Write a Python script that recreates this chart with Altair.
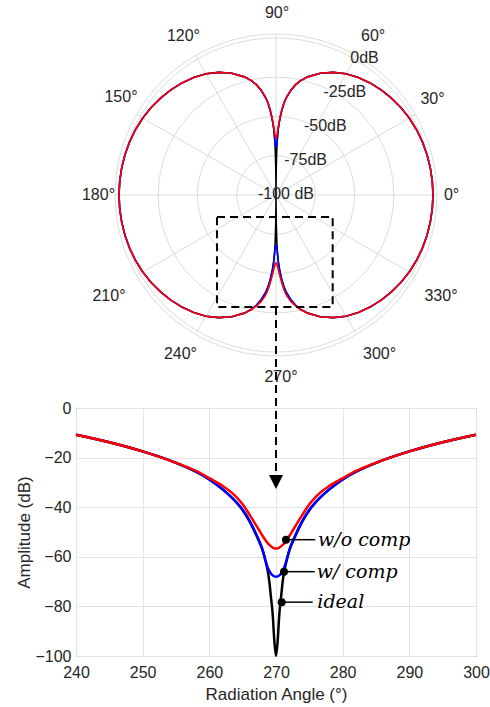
import altair as alt
import pandas as pd

# ---------------- values ----------------
# offsets (deg) from a pattern null (90 deg or 270 deg)
DELTA = [0, 0.25, 0.5, 0.75, 1, 1.25, 1.5, 2, 2.5, 3, 4, 5, 6, 8, 10, 12,
         15, 20, 25, 30, 35, 40, 45, 50, 55, 60, 65, 70, 75, 80, 85, 90]
# ideal pattern (dB) at those offsets
IDEAL_DB = [-100, -94, -83, -76.5, -70, -65.5, -62.5, -57.5, -54, -51, -45.5, -41.2,
            -37.9, -32.8, -28.8, -25.7, -22.1, -17.5, -13.8, -10.8, -8.6, -6.8, -5.3,
            -4.0, -2.9, -2.0, -1.3, -0.8, -0.45, -0.2, -0.05, 0]
# near-null values (first 16 offsets); further out all curves lie on the ideal one
WCOMP_270 = [-68, -67.9, -67.5, -66.8, -65.8, -64.3, -62.2, -57.3, -53.7, -50.7,
             -45.3, -41.0, -37.8, -32.8, -28.8, -25.7]
WOCOMP_270 = [-56.7, -56.6, -56.3, -55.8, -55.2, -54.5, -53.6, -51.6, -49.4, -47.2,
              -42.9, -38.8, -35.7, -31.4, -28.3, -25.4]
WCOMP_90 = [-69.5, -69.4, -69.0, -68.2, -67.0, -65.2, -62.5, -57.5, -54, -51,
            -45.5, -41.2, -37.9, -32.8, -28.8, -25.7]
WOCOMP_90 = [-63.5, -63.4, -63.0, -62.3, -61.4, -60.3, -59.0, -56.0, -53.0, -50.2,
             -45.0, -41.0, -37.8, -32.8, -28.8, -25.7]

SERIES = ["ideal", "w/ comp", "w/o comp"]
SERIES_COLORS = ["#000000", "#0000ff", "#ff0000"]

# polar grid
GRID_DB = [-75, -50, -25, 0]
OUTER_DB = 2.5
SPOKES = [0, 30, 60, 90, 120, 150, 180, 210, 240, 270, 300, 330]
ANGLE_LABELS = ["0°", "30°", "60°", "90°", "120°", "150°", "180°", "210°",
                "240°", "270°", "300°", "330°"]
RADIAL_DB = [-100, -75, -50, -25, 0]
RADIAL_LABELS = ["-100 dB", "-75dB", "-50dB", "-25dB", "0dB"]

# zoom window box drawn on the polar plot (polar units, r = dB + 100)
BOX_X = [-37.6, 36.1]
BOX_Y = [-71.3, -14.0]

# lower plot annotations
ANNOT_TEXT = ["w/o comp", "w/ comp", "ideal"]
ANNOT_ANGLE = [271.5, 271.2, 270.85]
ANNOT_DB = [-53.1, -66.0, -78.3]
ANNOT_LINE_END = [275.9, 275.8, 275.5]
ANNOT_TEXT_ANGLE = [276.3, 276.1, 276.2]
ARROW_ANGLE = 270
ARROW_TOP_DB = 4
ARROW_LINE_END_DB = -27
ARROW_TIP_DB = -29.8

X_TICKS = [240, 250, 260, 270, 280, 290, 300]
Y_TICKS = [-100, -80, -60, -40, -20, 0]

# ---------------- tables ----------------
def full(near):
    return near + IDEAL_DB[len(near):]

PROFILES = {
    "ideal": (IDEAL_DB, IDEAL_DB),
    "w/ comp": (full(WCOMP_90), full(WCOMP_270)),
    "w/o comp": (full(WOCOMP_90), full(WOCOMP_270)),
}

rows = []
for s in SERIES:
    top, bot = PROFILES[s]
    pts = []
    pts += [(90 - d, v) for d, v in zip(DELTA[::-1], top[::-1])]
    pts += [(90 + d, v) for d, v in zip(DELTA[1:], top[1:])]
    pts += [(270 - d, v) for d, v in zip(DELTA[::-1][1:], bot[::-1][1:])]
    pts += [(270 + d, v) for d, v in zip(DELTA[1:], bot[1:])]
    for i, (a, v) in enumerate(pts):
        rows.append({"series": s, "angle": a, "db": v, "i": i})
pattern = pd.DataFrame(rows)

grid_rows = []
for lev in GRID_DB + [OUTER_DB]:
    for a in range(0, 361, 3):
        grid_rows.append({"lev": lev, "angle": a, "db": lev})
grid_df = pd.DataFrame(grid_rows)

spoke_df = pd.DataFrame({"angle": SPOKES, "db": [OUTER_DB] * len(SPOKES), "label": ANGLE_LABELS})
radial_df = pd.DataFrame({"db": RADIAL_DB, "label": RADIAL_LABELS})
box_df = pd.DataFrame({"x1": [BOX_X[0]], "x2": [BOX_X[1]], "y1": [BOX_Y[0]], "y2": [BOX_Y[1]]})

# ---------------- polar chart ----------------
H1 = 391
XDOM = [-127.4, 127.4]
YDOM = [-(H1 - 192) / 1.57, 192 / 1.57]
FONT = "Liberation Sans"
TXT = "#262626"


def sx():
    return alt.Scale(domain=XDOM, nice=False, zero=False)


def sy():
    return alt.Scale(domain=YDOM, nice=False, zero=False)


px = alt.X("x:Q", scale=sx(), axis=None)
py = alt.Y("y:Q", scale=sy(), axis=None)

to_xy = dict(
    r="max(datum.db, -100) + 100",
    x="datum.r * cos(datum.angle * PI / 180)",
    y="datum.r * sin(datum.angle * PI / 180)",
)

grid_layer = alt.Chart(grid_df).transform_calculate(**to_xy).mark_line(
    color="#dcdcdc", strokeWidth=1
).encode(x=px, y=py, detail="lev:N", order="angle:Q")

spoke_layer = alt.Chart(spoke_df).transform_calculate(**to_xy).transform_calculate(
    x0="0", y0="0"
).mark_rule(color="#dcdcdc", strokeWidth=1).encode(
    x=alt.X("x0:Q", scale=sx(), axis=None),
    y=alt.Y("y0:Q", scale=sy(), axis=None),
    x2="x:Q", y2="y:Q",
)

# angle labels, anchored MATLAB-like (alignment depends on the side of the circle)
LABEL_R = 107
LABEL_STYLE = {  # angle: (align, baseline, dx, dy)
    0: ("left", "middle", 0, 0),
    30: ("left", "bottom", -1, -4),
    60: ("left", "bottom", 1, -6),
    90: ("center", "bottom", 1, -6),
    120: ("right", "bottom", 8, -6),
    150: ("right", "bottom", 7, -6),
    180: ("right", "middle", 7, 0),
    210: ("right", "top", -5, 9),
    240: ("right", "top", 5, 6),
    270: ("center", "top", 5, 6),
    300: ("left", "top", 3, 6),
    330: ("left", "top", 3, 9),
}
angle_label_layers = []
for ang, (align, baseline, dx, dy) in LABEL_STYLE.items():
    angle_label_layers.append(
        alt.Chart(spoke_df).transform_filter(alt.datum.angle == ang).transform_calculate(
            x=f"{LABEL_R} * cos(datum.angle * PI / 180)",
            y=f"{LABEL_R} * sin(datum.angle * PI / 180)",
        ).mark_text(font=FONT, fontSize=16, color=TXT, align=align, baseline=baseline,
                    dx=dx, dy=dy).encode(
            x=px, y=py, text="label:N"
        )
    )

radial_label_layer = alt.Chart(radial_df).transform_calculate(
    r="datum.db + 100",
    x="datum.r * cos(60 * PI / 180)",
    y="datum.r * sin(60 * PI / 180)",
).mark_text(font=FONT, fontSize=16, color=TXT, align="center", baseline="middle",
            dx=10, dy=-1).encode(
    x=px, y=py, text="label:N"
)

pattern_layers = []
for s, c in zip(SERIES, SERIES_COLORS):
    pattern_layers.append(
        alt.Chart(pattern).transform_filter(alt.datum.series == s).transform_calculate(**to_xy)
        .mark_line(color=c, strokeWidth=1.6)
        .encode(x=px, y=py, order="i:Q")
    )

box_layer = alt.Chart(box_df).mark_rect(
    filled=False, stroke="#000000", strokeWidth=2, strokeDash=[8, 5]
).encode(
    x=alt.X("x1:Q", scale=sx(), axis=None),
    x2="x2:Q",
    y=alt.Y("y1:Q", scale=sy(), axis=None),
    y2="y2:Q",
)

arrow_top_layer = alt.Chart(box_df).transform_calculate(
    ax="0", ybot=str(YDOM[0])
).mark_rule(color="#000000", strokeWidth=2, strokeDash=[8, 5]).encode(
    x=alt.X("ax:Q", scale=sx(), axis=None),
    y=alt.Y("y1:Q", scale=sy(), axis=None),
    y2="ybot:Q",
)

polar = alt.layer(
    grid_layer, spoke_layer, *pattern_layers, radial_label_layer, *angle_label_layers,
    box_layer, arrow_top_layer,
).properties(width=400, height=H1, view=alt.ViewBackground(stroke="transparent"))

# ---------------- lower cartesian chart ----------------
low = pattern[(pattern["angle"] >= 240) & (pattern["angle"] <= 300)]


def lsx():
    return alt.Scale(domain=[240, 300], nice=False, zero=False)


def lsy():
    return alt.Scale(domain=[-100, 0], nice=False, zero=False)


lx = alt.X(
    "angle:Q", scale=lsx(),
    axis=alt.Axis(values=X_TICKS, title="Radiation Angle (°)", format="d", labelFlush=False),
)
ly = alt.Y(
    "db:Q", scale=lsy(),
    axis=alt.Axis(values=Y_TICKS, title="Amplitude (dB)", format="d", labelFlush=False),
)

low_lines = []
for s, c in zip(SERIES, SERIES_COLORS):
    low_lines.append(
        alt.Chart(low).transform_filter(alt.datum.series == s)
        .mark_line(color=c, strokeWidth=2.5, interpolate="monotone")
        .encode(x=lx, y=ly, order="angle:Q")
    )

annot_df = pd.DataFrame({
    "text": ANNOT_TEXT, "angle": ANNOT_ANGLE, "db": ANNOT_DB,
    "end": ANNOT_LINE_END, "tx": ANNOT_TEXT_ANGLE,
})

leader = alt.Chart(annot_df).mark_rule(color="#000000", strokeWidth=1.5).encode(
    x=lx, x2="end:Q", y=ly
)
dots = alt.Chart(annot_df).mark_point(filled=True, color="#000000", size=64, opacity=1).encode(
    x=lx, y=ly
)
labels = alt.Chart(annot_df).mark_text(
    font="DejaVu Serif", fontStyle="italic", fontSize=19, color="#000000",
    align="left", baseline="middle",
).encode(
    x=alt.X("tx:Q", scale=lsx()),
    y=ly, text="text:N",
)

arrow_df = pd.DataFrame({"angle": [ARROW_ANGLE], "top": [ARROW_TOP_DB],
                         "end": [ARROW_LINE_END_DB], "tip": [ARROW_TIP_DB]})
arrow_line = alt.Chart(arrow_df).mark_rule(
    color="#000000", strokeWidth=2, strokeDash=[8, 5]
).encode(
    x=lx,
    y=alt.Y("top:Q", scale=lsy()),
    y2="end:Q",
)
arrow_head = alt.Chart(arrow_df).mark_point(
    shape="M-1,-1L1,-1L0,1Z", filled=True, color="#000000", size=196, opacity=1
).encode(
    x=lx,
    y=alt.Y("tip:Q", scale=lsy()),
)

lower = alt.layer(
    *low_lines, leader, dots, labels, arrow_line, arrow_head
).properties(
    width=400, height=248,
    view=alt.ViewBackground(stroke="#3a3a3a", strokeWidth=1),
)

chart = alt.vconcat(polar, lower, spacing=0).properties(
    padding={"left": 15, "top": 2, "right": 0, "bottom": 0}
).configure(font=FONT).configure_axis(
    labelFont=FONT, labelFontSize=16, labelColor=TXT,
    titleFont=FONT, titleFontSize=17, titleFontWeight="normal", titleColor=TXT,
    grid=True, gridColor="#e3e3e3", gridWidth=1,
    domain=False, ticks=False,
).configure_axisY(labelPadding=5, titlePadding=1).configure_axisX(
    labelPadding=8, titlePadding=6
)

chart.save("out.html", embed_options={"renderer": "svg", "actions": False})
